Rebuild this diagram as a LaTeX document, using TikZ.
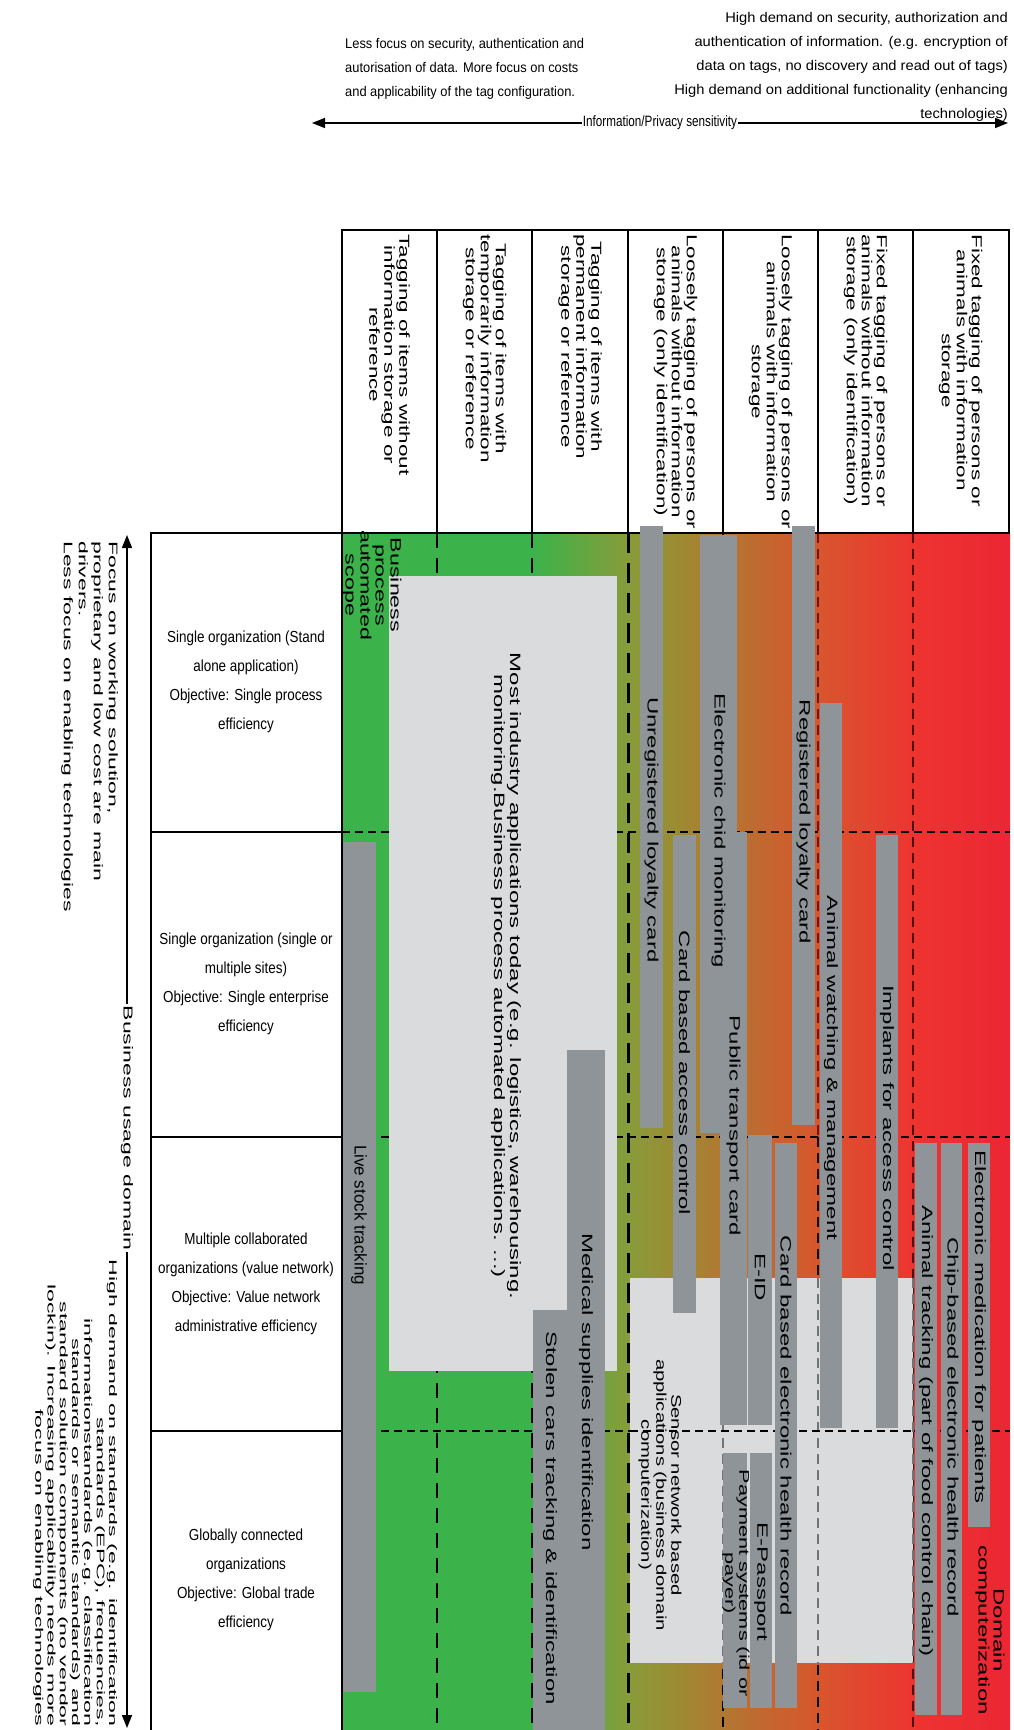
\documentclass[tikz,border=0pt]{standalone}
\usepackage{fontspec}
\setmainfont{Liberation Sans}
\usetikzlibrary{arrows.meta}

\definecolor{bargray}{RGB}{142,148,151}
\definecolor{boxgray}{RGB}{217,219,220}
\definecolor{cG}{RGB}{59,179,74}
\definecolor{cOa}{RGB}{135,156,58}
\definecolor{cOb}{RGB}{158,138,50}
\definecolor{cOc}{RGB}{193,104,48}
\definecolor{cOd}{RGB}{216,86,45}
\definecolor{cRa}{RGB}{237,52,48}
\definecolor{cRb}{RGB}{236,38,52}
\definecolor{dashred}{RGB}{110,22,22}
\definecolor{dashgray}{RGB}{112,116,119}

\newcommand{\fsz}[2]{\fontsize{#1}{#2}\selectfont}

\begin{document}
\begin{tikzpicture}[x=1pt,y=-1pt,
  tline/.style={line width=2pt, black},
  vdash/.style={line width=2pt, dash pattern=on 15pt off 10pt},
  hdash/.style={line width=2pt, dash pattern=on 8pt off 5pt},
  rdash/.style={line width=2pt, dash pattern=on 10pt off 6pt},
  rlbl/.style={rotate=-90, xscale=#1, inner sep=0pt, align=center},
  barlbl/.style={rlbl=1.6, font=\fsz{15}{16}},
  hdr/.style={rlbl=1.55, anchor=west, font=\fsz{14.5}{15}},
  rowlbl/.style={xscale=0.84, inner sep=0pt, align=center, font=\fsz{16}{29}},
  note/.style={inner sep=0pt, font=\fsz{14}{24}},
  axisarrow/.style={line width=1.5pt, {Triangle[length=13pt,width=10pt]}-{Triangle[length=13pt,width=10pt]}},
]
\useasboundingbox (0,0) rectangle (1013,1730);
\fill[white] (0,0) rectangle (1013,1730);

% ---- background: sensitivity gradient from green to red
\fill[cG] (342,533) rectangle (532.5,1730);
\shade[left color=cG, right color=cOa] (532,533) rectangle (628.5,1730);
\shade[left color=cOa, right color=cOb] (628,533) rectangle (680.5,1730);
\shade[left color=cOb, right color=cOc] (680,533) rectangle (760.5,1730);
\shade[left color=cOc, right color=cOd] (760,533) rectangle (818.5,1730);
\shade[left color=cOd, right color=cRa] (818,533) rectangle (913.5,1730);
\shade[left color=cRa, right color=cRb] (913,533) rectangle (1010,1730);

% ---- dashed grid
\draw[vdash] (437,533) -- (437,1730);
\draw[vdash] (532,533) -- (532,1730);
\draw[rdash] (723,533) -- (723,1730);
\draw[rdash, dashred] (818,533) -- (818,1137);
\draw[rdash] (818,1137) -- (818,1730);
\draw[rdash, dashred!70!black] (913,533) -- (913,1730);
\draw[hdash] (342,832) -- (1010,832);
\draw[hdash] (342,1137) -- (1010,1137);
\draw[hdash] (342,1431) -- (1010,1431);

% ---- sensor network region
\fill[boxgray] (630,1278) rectangle (913,1663);
\draw[rdash, dashgray] (723,1278) -- (723,1663);
\draw[rdash, dashgray] (818,1278) -- (818,1663);
\draw[rdash, dashgray] (913,1278) -- (913,1663);
\draw[hdash] (630,1431) -- (913,1431);
\draw[line width=3pt, dash pattern=on 20pt off 10pt] (628,533) -- (628,1730);

% ---- industry applications region
\fill[boxgray] (389,576) rectangle (617,1371);

% ---- tables
\draw[tline] (342,230) rectangle (1009,533);
\foreach \cx in {437,532,628,723,818,913} \draw[tline] (\cx,230) -- (\cx,533);
\draw[tline] (151,1730) -- (151,533) -- (342,533) -- (342,1730);
\foreach \ry in {832,1137,1431} \draw[tline] (151,\ry) -- (342,\ry);

% ---- application bars
\fill[bargray] (343,842) rectangle (376,1692);
\fill[bargray] (567,1050) rectangle (605,1730);
\fill[bargray] (533,1310) rectangle (567,1730);
\fill[bargray] (640,526) rectangle (663,1128);
\fill[bargray] (673,835) rectangle (696,1313);
\fill[bargray] (720,832) rectangle (747,1425);
\fill[bargray] (700,535) rectangle (737,1133);
\fill[bargray] (748,1135) rectangle (772,1425);
\fill[bargray] (775,1143) rectangle (797,1708);
\fill[bargray] (792,526) rectangle (815,1125);
\fill[bargray] (723,1453) rectangle (747,1708);
\fill[bargray] (750,1453) rectangle (772,1708);
\fill[bargray] (820,703) rectangle (842,1428);
\fill[bargray] (876,835) rectangle (898,1428);
\fill[bargray] (915,1143) rectangle (937,1715);
\fill[bargray] (941,1143) rectangle (962,1715);
\fill[bargray] (968,1143) rectangle (990,1527);

% ---- column headers
\node[hdr] (h1) at (389.5,234) {Tagging of items without\\information storage or\\reference};
\node[hdr] (h2) at (484.5,234) {Tagging of items with\\temporarily information\\storage or reference};
\node[hdr] (h3) at (580,234) {Tagging of items with\\permanent information\\storage or reference};
\node[hdr] (h4) at (675.5,234) {Loosely tagging of persons or\\animals without information\\storage (only identification)};
\node[hdr] (h5) at (770.5,234) {Loosely tagging of persons or\\animals with information\\storage};
\node[hdr] (h6) at (865.5,234) {Fixed tagging of persons or\\animals without information\\storage (only identification)};
\node[hdr] (h7) at (960.5,234) {Fixed tagging of persons or\\animals with information\\storage};

% ---- row headers
\node[rowlbl] (r1) at (246,682) {Single organization (Stand\\alone application)\\Objective: Single process\\efficiency};
\node[rowlbl] (r2) at (246,984) {Single organization (single or\\multiple sites)\\Objective: Single enterprise\\efficiency};
\node[rowlbl] (r3) at (246,1284) {Multiple collaborated\\organizations (value network)\\Objective: Value network\\administrative efficiency};
\node[rowlbl] (r4) at (246,1580) {Globally connected\\organizations\\Objective: Global trade\\efficiency};

% ---- region and bar labels
\node[rlbl=1.55, font=\fsz{15}{15}] (bpas) at (372,585) {Business\\process\\automated\\scope};
\node[barlbl] (most) at (506,976) {Most industry applications today (e.g. logistics, warehousing.\\monitoring.Business process automated applications. ...)};
\node[rlbl=1.45, font=\fsz{14}{15}] (sens) at (660,1495) {Sensor network based\\applications (business domain\\computerization)};
\node[rlbl=1.0, font=\fsz{17}{17}] (live) at (359,1215) {Live stock tracking};
\node[barlbl] (med) at (586,1392) {Medical supplies identification};
\node[barlbl] (stol) at (550,1518) {Stolen cars tracking \& identification};
\node[barlbl] (unreg) at (651.5,830) {Unregistered loyalty card};
\node[barlbl] (cacc) at (684.5,1073) {Card based access control};
\node[barlbl] (chid) at (718.5,831) {Electronic chid monitoring};
\node[barlbl] (ptc) at (733.5,1126) {Public transport card};
\node[barlbl] (eid) at (760,1277) {E-ID};
\node[barlbl] (cehr) at (786,1426) {Card based electronic health record};
\node[barlbl] (reg) at (803.5,822) {Registered loyalty card};
\node[rlbl=1.55, font=\fsz{14}{13}] (pay) at (736,1583) {Payment systems (id or\\payer)};
\node[barlbl] (epass) at (761,1582) {E-Passport};
\node[barlbl] (anw) at (831,1068) {Animal watching \& management};
\node[barlbl] (impl) at (887,1128) {Implants for access control};
\node[barlbl] (ant) at (926,1431) {Animal tracking (part of food control chain)};
\node[barlbl] (chip) at (951.5,1427) {Chip-based electronic health record};
\node[barlbl] (emed) at (979,1327) {Electronic medication for patients};
\node[rlbl=1.6, font=\fsz{15}{15}] (dom) at (990,1630) {Domain\\computerization};

% ---- sensitivity axis (top)
\node[note, xscale=0.92, anchor=west, align=left] (noteL) at (345,69) {Less focus on security, authentication and\\autorisation of data. More focus on costs\\and applicability of the tag configuration.};
\node[note, xscale=1.05, anchor=east, align=right] (noteR) at (1008,67) {High demand on security, authorization and\\authentication of information. (e.g. encryption of\\data on tags, no discovery and read out of tags)\\High demand on additional functionality (enhancing\\technologies)};
\coordinate (axL) at (312,123);
\coordinate (axR) at (1008,123);
\draw[axisarrow] (axL) -- (axR);
\node[fill=white, inner sep=1pt, xscale=0.78, font=\fsz{15}{15}] (ips) at (660,123) {Information/Privacy sensitivity};

% ---- business usage axis (left)
\coordinate (axT) at (127,535);
\coordinate (axB) at (127,1728);
\draw[axisarrow] (axT) -- (axB);
\node[rlbl=1.77, fill=white, inner sep=1pt, font=\fsz{13}{13}] (bud) at (127,1128) {Business usage domain};
\node[rlbl=1.84, anchor=west, align=left, font=\fsz{12.5}{15}] (focus) at (89.5,541) {Focus on working solution,\\proprietary and low cost are main\\drivers.\\Less focus on enabling technologies};
\node[rlbl=2.1, anchor=east, align=right, font=\fsz{11}{12.3}] (hdem) at (75,1727) {High demand on standards (e.g. identification\\standards (EPC), frequencies,\\informationstandards (e.g. classification\\standards or semantic standards) and\\standard solution components (no vendor\\lockin). Increasing applicability needs more\\focus on enabling technologies};
\end{tikzpicture}
\end{document}
